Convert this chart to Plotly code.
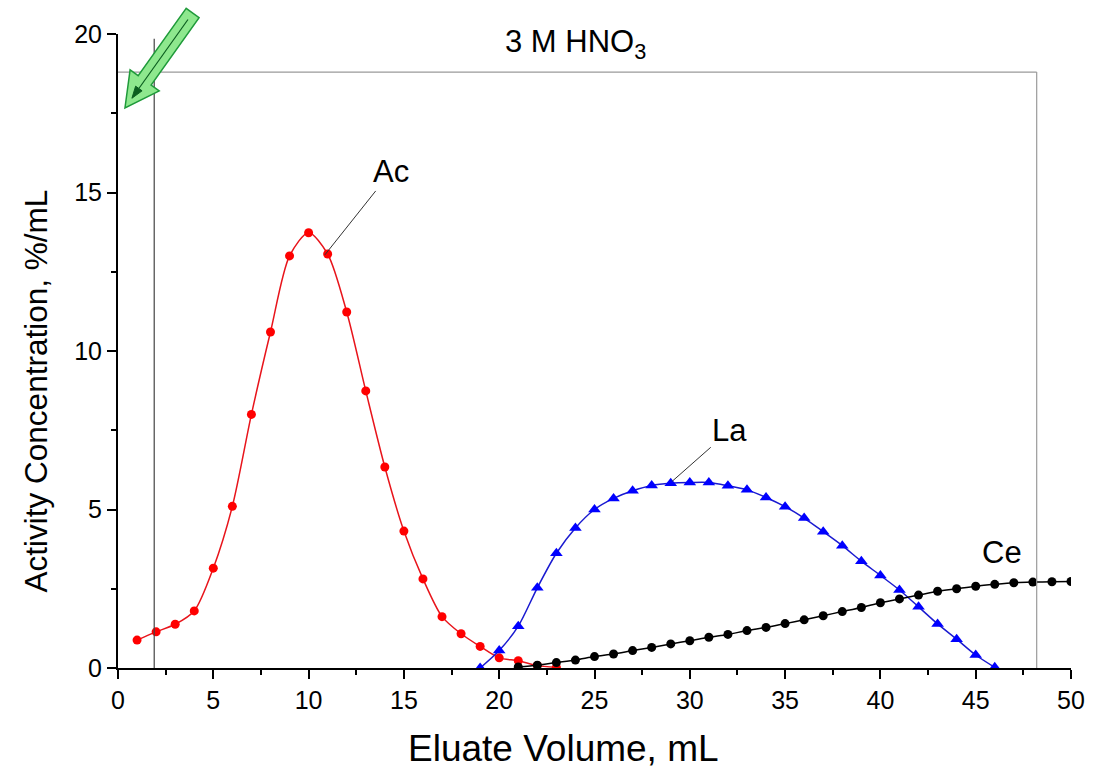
import math
import plotly.graph_objects as go

# ---- data ----
ac_x = list(range(1, 24))
ac_y = [0.88, 1.14, 1.38, 1.80, 3.15, 5.10, 8.00, 10.60, 13.00, 13.73, 13.06, 11.23,
        8.74, 6.34, 4.32, 2.81, 1.62, 1.08, 0.68, 0.32, 0.23, 0.08, 0.02]

la_x = list(range(19, 47))
la_y = [0.0, 0.55, 1.32, 2.53, 3.62, 4.42, 5.00, 5.35, 5.59, 5.76, 5.83, 5.85, 5.85,
        5.75, 5.62, 5.38, 5.09, 4.73, 4.30, 3.86, 3.37, 2.92, 2.46, 1.93, 1.39, 0.91,
        0.41, 0.02]

ce_x = list(range(21, 51))
ce_y = [0.03, 0.09, 0.17, 0.25, 0.36, 0.44, 0.55, 0.65, 0.76, 0.86, 0.97, 1.06, 1.18,
        1.28, 1.40, 1.52, 1.65, 1.78, 1.91, 2.06, 2.18, 2.30, 2.42, 2.50, 2.58, 2.64,
        2.69, 2.71, 2.72, 2.73]

x_ticks = [0, 5, 10, 15, 20, 25, 30, 35, 40, 45, 50]
y_ticks = [0, 5, 10, 15, 20]

FONT = "Arial, Liberation Sans, sans-serif"

fig = go.Figure()
fig.add_trace(go.Scatter(x=ac_x, y=ac_y, mode="lines+markers", name="Ac",
                         line=dict(color="#e8141b", width=1.5, shape="spline", smoothing=0.8),
                         marker=dict(symbol="circle", size=9, color="#ff0000")))
fig.add_trace(go.Scatter(x=la_x, y=la_y, mode="lines+markers", name="La",
                         line=dict(color="#1a1ad0", width=1.5, shape="spline", smoothing=0.8),
                         marker=dict(symbol="triangle-up", size=11, color="#0000ff")))
fig.add_trace(go.Scatter(x=ce_x, y=ce_y, mode="lines+markers", name="Ce",
                         line=dict(color="black", width=1.5, shape="spline", smoothing=0.8),
                         marker=dict(symbol="circle", size=9, color="black")))

W, H = 1097, 771
L, R, T, B = 118, 1076, 34, 668


def px2paper(px, py):
    return (px - L) / (R - L), (B - py) / (B - T)


def poly_path(points):
    s = ""
    for i, (a, b) in enumerate(points):
        xp, yp = px2paper(a, b)
        s += ("M" if i == 0 else "L") + f"{xp:.5f},{yp:.5f} "
    return s + "Z"


shapes = [
    # grey frame (top and right)
    dict(type="line", xref="x", yref="y", x0=0, x1=48.2, y0=18.8, y1=18.8,
         line=dict(color="#9a9a9a", width=1.2)),
    dict(type="line", xref="x", yref="y", x0=48.2, x1=48.2, y0=0, y1=18.8,
         line=dict(color="#9a9a9a", width=1.2)),
    # vertical marker line
    dict(type="line", xref="x", yref="y", x0=1.9, x1=1.9, y0=0, y1=19.85,
         line=dict(color="#444444", width=1.2)),
]

# green block arrow (pixel geometry converted to paper coords)
tail = (193.0, 13.0)
tip = (125.0, 108.0)
dx, dy = tip[0] - tail[0], tip[1] - tail[1]
ln = math.hypot(dx, dy)
ux, uy = dx / ln, dy / ln
nx, ny = -uy, ux
shaft_hw, head_hw, head_len = 8.0, 18.0, 34.0
bx, by = tip[0] - ux * head_len, tip[1] - uy * head_len
pts = [
    (tail[0] + nx * shaft_hw, tail[1] + ny * shaft_hw),
    (bx + nx * shaft_hw, by + ny * shaft_hw),
    (bx + nx * head_hw, by + ny * head_hw),
    tip,
    (bx - nx * head_hw, by - ny * head_hw),
    (bx - nx * shaft_hw, by - ny * shaft_hw),
    (tail[0] - nx * shaft_hw, tail[1] - ny * shaft_hw),
]
shapes.append(dict(type="path", xref="paper", yref="paper", path=poly_path(pts),
                   fillcolor="#8ee88e", line=dict(color="#1f9a3a", width=1.5), layer="above"))

# inner dark green thin arrow
in_start = (tail[0] + ux * 8, tail[1] + uy * 8)
in_tip = (tip[0] - ux * 12, tip[1] - uy * 12)
hb = (in_tip[0] - ux * 12, in_tip[1] - uy * 12)
s0 = px2paper(*in_start)
s1 = px2paper(*hb)
shapes.append(dict(type="line", xref="paper", yref="paper", x0=s0[0], y0=s0[1], x1=s1[0], y1=s1[1],
                   line=dict(color="#0b5e1f", width=1.2), layer="above"))
head = [(hb[0] + nx * 4, hb[1] + ny * 4), in_tip, (hb[0] - nx * 4, hb[1] - ny * 4)]
shapes.append(dict(type="path", xref="paper", yref="paper", path=poly_path(head),
                   fillcolor="#0b5e1f", line=dict(color="#0b5e1f", width=1), layer="above"))

annotations = []
# curve labels
annotations.append(dict(x=10.85, y=13.03, xref="x", yref="y", text="Ac", showarrow=True,
                        arrowhead=0, arrowwidth=1, arrowcolor="#333333", ax=66, ay=-83,
                        font=dict(family=FONT, size=31, color="black"), standoff=0))
annotations.append(dict(x=29.0, y=5.85, xref="x", yref="y", text="La", showarrow=True,
                        arrowhead=0, arrowwidth=1, arrowcolor="#333333", ax=59, ay=-52,
                        font=dict(family=FONT, size=31, color="black"), standoff=2))
annotations.append(dict(x=46.4, y=3.63, xref="x", yref="y", text="Ce", showarrow=False,
                        font=dict(family=FONT, size=31, color="black")))

# title
tx, ty = px2paper(578, 44)
annotations.append(dict(x=tx, y=ty, xref="paper", yref="paper", text="3 M HNO<sub>3</sub>",
                        showarrow=False, xanchor="center", yanchor="middle",
                        font=dict(family=FONT, size=31, color="black")))
# axis titles
xx, xy = px2paper(566, 748)
annotations.append(dict(x=xx, y=xy, xref="paper", yref="paper", text="Eluate Volume, mL",
                        showarrow=False, xanchor="center", yanchor="middle",
                        font=dict(family=FONT, size=37, color="black")))
yx, yy = px2paper(36, 391)
annotations.append(dict(x=yx, y=yy, xref="paper", yref="paper",
                        text="Activity Concentration, %/mL", textangle=-90,
                        showarrow=False, xanchor="center", yanchor="middle",
                        font=dict(family=FONT, size=31.5, color="black")))

fig.update_layout(
    width=W, height=H,
    margin=dict(l=L, r=W - R, t=T, b=H - B),
    paper_bgcolor="white", plot_bgcolor="white",
    showlegend=False,
    shapes=shapes, annotations=annotations,
    font=dict(family=FONT, color="black"),
)
fig.update_xaxes(range=[0, 50], tickvals=x_ticks, ticktext=[str(v) for v in x_ticks],
                 showgrid=False, zeroline=False, showline=True, linecolor="black", linewidth=2,
                 ticks="outside", ticklen=9, tickwidth=2, tickcolor="black",
                 tickfont=dict(family=FONT, size=25, color="black"),
                 minor=dict(ticks="outside", dtick=2.5, ticklen=5, tickwidth=2, tickcolor="black"))
fig.update_yaxes(range=[0, 20], tickvals=y_ticks, ticktext=[str(v) for v in y_ticks],
                 showgrid=False, zeroline=False, showline=True, linecolor="black", linewidth=2,
                 ticks="outside", ticklen=9, tickwidth=2, tickcolor="black",
                 tickfont=dict(family=FONT, size=25, color="black"),
                 minor=dict(ticks="outside", dtick=2.5, ticklen=5, tickwidth=2, tickcolor="black"))

fig.write_html("out.html")
